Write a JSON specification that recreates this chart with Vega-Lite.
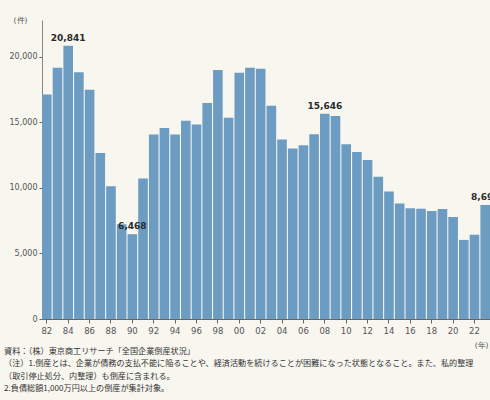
{
  "$schema": "https://vega.github.io/schema/vega-lite/v6.json",
  "autosize": "none",
  "width": 448,
  "height": 299,
  "padding": {"left": 42, "top": 20, "right": 0, "bottom": 81},
  "background": "#f7f6ef",
  "config": {
    "view": {"stroke": null},
    "font": "DejaVu Sans"
  },
  "data": {
    "values": [
      {"year": 1982, "count": 17122},
      {"year": 1983, "count": 19155},
      {"year": 1984, "count": 20841},
      {"year": 1985, "count": 18812},
      {"year": 1986, "count": 17476},
      {"year": 1987, "count": 12655},
      {"year": 1988, "count": 10122},
      {"year": 1989, "count": 7234},
      {"year": 1990, "count": 6468},
      {"year": 1991, "count": 10723},
      {"year": 1992, "count": 14069},
      {"year": 1993, "count": 14564},
      {"year": 1994, "count": 14061},
      {"year": 1995, "count": 15108},
      {"year": 1996, "count": 14834},
      {"year": 1997, "count": 16464},
      {"year": 1998, "count": 18988},
      {"year": 1999, "count": 15352},
      {"year": 2000, "count": 18769},
      {"year": 2001, "count": 19164},
      {"year": 2002, "count": 19087},
      {"year": 2003, "count": 16255},
      {"year": 2004, "count": 13679},
      {"year": 2005, "count": 12998},
      {"year": 2006, "count": 13245},
      {"year": 2007, "count": 14091},
      {"year": 2008, "count": 15646},
      {"year": 2009, "count": 15480},
      {"year": 2010, "count": 13321},
      {"year": 2011, "count": 12734},
      {"year": 2012, "count": 12124},
      {"year": 2013, "count": 10855},
      {"year": 2014, "count": 9731},
      {"year": 2015, "count": 8812},
      {"year": 2016, "count": 8446},
      {"year": 2017, "count": 8405},
      {"year": 2018, "count": 8235},
      {"year": 2019, "count": 8383},
      {"year": 2020, "count": 7773},
      {"year": 2021, "count": 6030},
      {"year": 2022, "count": 6428},
      {"year": 2023, "count": 8690}
    ]
  },
  "title": {
    "text": [
      "資料：（株）東京商工リサーチ「全国企業倒産状況」",
      "（注）1.倒産とは、企業が債務の支払不能に陥ることや、経済活動を続けることが困難になった状態となること。また、私的整理",
      "（取引停止処分、内整理）も倒産に含まれる。",
      "2.負債総額1,000万円以上の倒産が集計対象。"
    ],
    "orient": "bottom",
    "anchor": "start",
    "frame": "group",
    "dx": -38,
    "offset": -1,
    "font": "Noto Sans CJK JP",
    "fontSize": 8.15,
    "fontWeight": "normal",
    "lineHeight": 12.5,
    "color": "#333333"
  },
  "encoding": {
    "x": {
      "field": "year",
      "type": "ordinal",
      "scale": {"paddingInner": 0.1, "paddingOuter": 0},
      "axis": {
        "values": [1982,1984,1986,1988,1990,1992,1994,1996,1998,2000,2002,2004,2006,2008,2010,2012,2014,2016,2018,2020,2022],
        "labelExpr": "substring(toString(datum.value), 2)",
        "labelAngle": 0,
        "labelFontSize": 8.5,
        "labelColor": "#555555",
        "labelPadding": 3,
        "domainColor": "#666666",
        "tickColor": "#666666",
        "tickSize": 4,
        "title": "(年)",
        "titleFontSize": 7.5,
        "titleFontWeight": "normal",
        "titleColor": "#555555",
        "titleX": 446,
        "titleY": 26,
        "titleAlign": "right",
        "titleBaseline": "middle"
      }
    },
    "y": {
      "field": "count",
      "type": "quantitative",
      "scale": {"domain": [0, 22800], "nice": false},
      "axis": {
        "values": [0, 5000, 10000, 15000, 20000],
        "format": ",d",
        "grid": false,
        "labelFontSize": 8,
        "labelColor": "#555555",
        "labelPadding": 2,
        "domainColor": "#888888",
        "tickColor": "#666666",
        "tickSize": 3,
        "title": "(件)",
        "titleAngle": 0,
        "titleFontSize": 7.5,
        "titleFontWeight": "normal",
        "titleColor": "#555555",
        "titleX": -22,
        "titleY": 0,
        "titleAlign": "center",
        "titleBaseline": "middle"
      }
    }
  },
  "layer": [
    {
      "mark": {"type": "bar", "color": "#6d9cc3"}
    },
    {
      "transform": [{"filter": {"field": "year", "oneOf": [1984, 1990, 2008, 2023]}}],
      "mark": {"type": "text", "fontWeight": "bold", "fontSize": 9, "color": "#2a2a2a", "baseline": "bottom", "dy": -3},
      "encoding": {
        "text": {"field": "count", "type": "quantitative", "format": ",d"}
      }
    }
  ]
}
